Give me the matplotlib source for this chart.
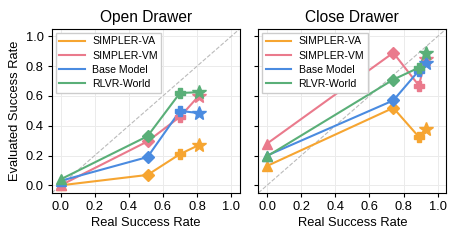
import matplotlib
matplotlib.use('Agg')
import matplotlib.pyplot as plt

plt.rcParams['font.family'] = ['Liberation Sans', 'DejaVu Sans']

# Data
methods = ['SIMPLER-VA', 'SIMPLER-VM', 'Base Model', 'RLVR-World']
colors = ['#F6A531', '#EA7A8C', '#4A8BE0', '#5AAF78']
markers = ['^', 'D', 'P', '*']

open_real = [0.0, 0.51, 0.70, 0.81]
open_va = [0.0, 0.07, 0.21, 0.27]
open_vm = [0.0, 0.295, 0.46, 0.60]
open_base = [0.03, 0.19, 0.50, 0.485]
open_rlvr = [0.04, 0.33, 0.62, 0.625]

close_real = [0.0, 0.74, 0.89, 0.93]
close_va = [0.13, 0.52, 0.325, 0.38]
close_vm = [0.28, 0.89, 0.67, 0.85]
close_base = [0.20, 0.57, 0.77, 0.82]
close_rlvr = [0.195, 0.71, 0.79, 0.89]

panels = [
    ('Open Drawer', open_real, [open_va, open_vm, open_base, open_rlvr]),
    ('Close Drawer', close_real, [close_va, close_vm, close_base, close_rlvr]),
]

fig, axes = plt.subplots(1, 2, figsize=(4.6, 2.41), dpi=100, sharey=True)
fig.subplots_adjust(left=0.113, right=0.97, bottom=0.2, top=0.88, wspace=0.1)

for ax, (title, real, series) in zip(axes, panels):
    ax.plot([-0.05, 1.05], [-0.05, 1.05], '--', color='#BBBBBB', lw=0.8, zorder=1)
    for name, vals, c in zip(methods, series, colors):
        ax.plot(real, vals, color=c, lw=1.5, label=name, zorder=2)
        for x, y, m in zip(real, vals, markers):
            ms = 10 if m == '*' else 7
            if m == 'D':
                ms = 6
            ax.plot(x, y, marker=m, color=c, ms=ms, mec=c, zorder=3)
    ax.set_xlim(-0.05, 1.05)
    ax.set_ylim(-0.05, 1.05)
    ax.set_xticks([0, 0.2, 0.4, 0.6, 0.8, 1.0])
    ax.set_yticks([0, 0.2, 0.4, 0.6, 0.8, 1.0])
    ax.grid(True, color='#EBEBEB', lw=0.7, zorder=0)
    ax.set_axisbelow(True)
    ax.set_title(title, fontsize=11.2, pad=5)
    ax.set_xlabel('Real Success Rate', fontsize=9.3, labelpad=3)
    ax.tick_params(labelsize=9.3, length=3, pad=3)
    ax.legend(loc='upper left', fontsize=7.6, handlelength=2.4, borderpad=0.35,
              labelspacing=0.4, handletextpad=0.7, borderaxespad=0.35,
              fancybox=False, framealpha=1, edgecolor='#CCCCCC')

axes[0].set_ylabel('Evaluated Success Rate', fontsize=9.3, labelpad=3)

fig.savefig('out.png', dpi=100)
